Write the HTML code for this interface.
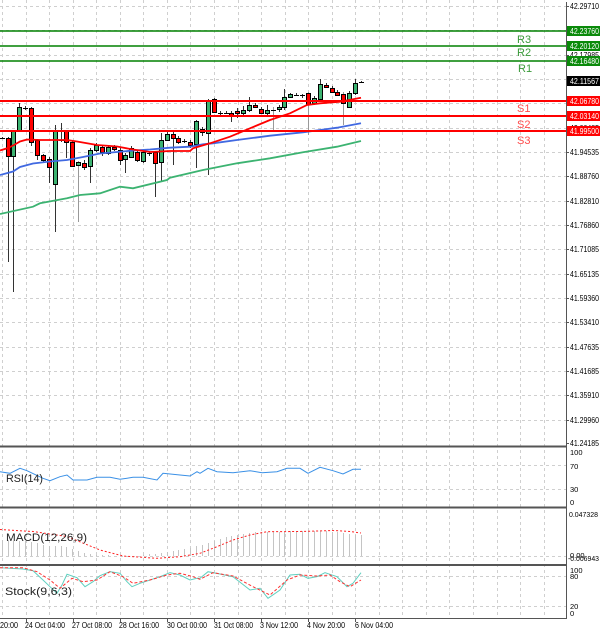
<!DOCTYPE html>
<html><head><meta charset="utf-8"><style>
html,body{margin:0;padding:0;background:#fff;}
svg{display:block;}
text{font-family:"Liberation Sans",sans-serif;}
</style></head><body>
<svg width="600" height="632" viewBox="0 0 600 632" xmlns="http://www.w3.org/2000/svg">
<rect width="600" height="632" fill="#fff"/>
<!-- vertical grid -->
<g stroke="#cfcfcf" stroke-width="1" stroke-dasharray="3 3">
<path d="M2.5 0V618M26.5 0V618M49.5 0V618M73.5 0V618M96.5 0V618M120.5 0V618M143.5 0V618M167.5 0V618M190.5 0V618M214.5 0V618M238.5 0V618M261.5 0V618M285.5 0V618M308.5 0V618M332.5 0V618M355.5 0V618M379.5 0V618M402.5 0V618M426.5 0V618M449.5 0V618M473.5 0V618M497.5 0V618M520.5 0V618M544.5 0V618"/>
<path d="M0 6.5H566M0 30.5H566M0 55.5H566M0 79.5H566M0 103.5H566M0 128.5H566M0 152.5H566M0 176.5H566M0 201.5H566M0 225.5H566M0 249.5H566M0 274.5H566M0 298.5H566M0 322.5H566M0 347.5H566M0 371.5H566M0 395.5H566M0 420.5H566"/>
<path d="M0 465.5H566M0 489.5H566M0 556.5H566M0 576.5H566M0 606.5H566"/>
</g>

<!-- wicks -->
<g stroke="#333" stroke-width="1">
<path d="M2.5 137V139M8.5 137V262M13.5 130V292M19.5 103V131M25.5 106V110M31.5 107V146M37.5 139V160M43.5 154V162M49.5 157V183M55.5 125V232M61.5 123V142M66.5 130V158M72.5 140V167M84.5 160V170M90.5 148V183M96.5 143V152M102.5 145V156M108.5 145V155M114.5 145V151M120.5 148V165M125.5 153V173M131.5 146V158M137.5 150V162M143.5 150V163M149.5 151V156M155.5 151V197M161.5 133V182M167.5 130V141M173.5 132V165M178.5 136V144M184.5 139V143M190.5 140V148M196.5 120V168M202.5 127V136M208.5 99V175M214.5 98V113M220.5 111V115M226.5 111V114M231.5 111V122M237.5 108V118M243.5 106V115M249.5 97V112M255.5 103V108M261.5 107V114M267.5 105V115M279.5 105V112M284.5 89V110M290.5 93V98M296.5 93V96M302.5 94V98M314.5 96V105M320.5 79V100M326.5 83V88M332.5 86V93M337.5 90V96M349.5 91V108M355.5 79V95M361.5 81V83"/>
</g>
<g stroke="#999" stroke-width="1">
<path d="M78.5 161V222M273.5 107V130M308.5 92V135M343.5 92V125"/>
</g>
<!-- bodies -->
<g stroke="#000" stroke-width="1" fill="#3cb371">
<rect x="11.5" y="131.5" width="4" height="25"/>
<rect x="17.5" y="107.5" width="4" height="24"/>
<rect x="53.5" y="131.5" width="4" height="53"/>
<rect x="76.5" y="162.5" width="4" height="3"/>
<rect x="88.5" y="150.5" width="4" height="16"/>
<rect x="94.5" y="145.5" width="4" height="5"/>
<rect x="106.5" y="147.5" width="4" height="6"/>
<rect x="123.5" y="155.5" width="4" height="4"/>
<rect x="129.5" y="148.5" width="4" height="9"/>
<rect x="141.5" y="152.5" width="4" height="9"/>
<rect x="159.5" y="140.5" width="4" height="22"/>
<rect x="165.5" y="134.5" width="4" height="6"/>
<rect x="194.5" y="121.5" width="4" height="23"/>
<rect x="206.5" y="100.5" width="4" height="33"/>
<rect x="241.5" y="110.5" width="4" height="3"/>
<rect x="247.5" y="105.5" width="4" height="5"/>
<rect x="265.5" y="110.5" width="4" height="3"/>
<rect x="277.5" y="107.5" width="4" height="2"/>
<rect x="282.5" y="97.5" width="4" height="10"/>
<rect x="288.5" y="94.5" width="4" height="3"/>
<rect x="312.5" y="98.5" width="4" height="5"/>
<rect x="318.5" y="84.5" width="4" height="15"/>
<rect x="347.5" y="93.5" width="4" height="14"/>
<rect x="353.5" y="83.5" width="4" height="10"/>
</g>
<g stroke="#000" stroke-width="1" fill="#f00">
<rect x="6.5" y="138.5" width="4" height="18"/>
<rect x="29.5" y="108.5" width="4" height="34"/>
<rect x="35.5" y="140.5" width="4" height="15"/>
<rect x="41.5" y="155.5" width="4" height="5"/>
<rect x="47.5" y="159.5" width="4" height="8"/>
<rect x="64.5" y="131.5" width="4" height="11"/>
<rect x="70.5" y="142.5" width="4" height="24"/>
<rect x="82.5" y="163.5" width="4" height="4"/>
<rect x="100.5" y="147.5" width="4" height="5"/>
<rect x="112.5" y="147.5" width="4" height="2"/>
<rect x="118.5" y="150.5" width="4" height="10"/>
<rect x="135.5" y="152.5" width="4" height="8"/>
<rect x="153.5" y="152.5" width="4" height="11"/>
<rect x="171.5" y="134.5" width="4" height="4"/>
<rect x="176.5" y="138.5" width="4" height="4"/>
<rect x="188.5" y="142.5" width="4" height="3"/>
<rect x="200.5" y="129.5" width="4" height="3"/>
<rect x="212.5" y="99.5" width="4" height="13"/>
<rect x="229.5" y="113.5" width="4" height="2"/>
<rect x="235.5" y="111.5" width="4" height="2"/>
<rect x="253.5" y="105.5" width="4" height="2"/>
<rect x="259.5" y="109.5" width="4" height="4"/>
<rect x="306.5" y="93.5" width="4" height="11"/>
<rect x="324.5" y="85.5" width="4" height="2"/>
<rect x="330.5" y="88.5" width="4" height="4"/>
<rect x="335.5" y="92.5" width="4" height="3"/>
<rect x="341.5" y="94.5" width="4" height="9"/>
</g>
<!-- doji -->
<g stroke="#000" stroke-width="1">
<path d="M0 138.5H5M23 108.5H28M59 140.5H64M147 153.5H152M182 141.5H187M218 113.5H223M224 113.5H229M271 110.5H276M294 95.5H299M300 95.5H305M359 82.5H364"/>
</g>

<!-- moving averages -->
<polyline fill="none" stroke="#3cb371" stroke-width="1.8" points="0,214 33,206.7 40,203.3 67,198.3 80,195 100,193.3 120,186.7 133,188.3 167,180 170,177.7 203,170 237,163.3 270,158.3 303,152.3 337,146.7 361,141"/>
<polyline fill="none" stroke="#4169e1" stroke-width="1.8" points="0,175 13,171.5 20,167 33,163.5 50,161.5 67,160 83,157 100,153.5 117,152 133,150.5 150,149.5 170,147.7 190,146.7 203,144.3 213,143.3 237,140 270,135.7 303,132.3 320,130 337,127.7 361,123.3"/>
<polyline fill="none" stroke="#ff0000" stroke-width="1.8" points="0,150.5 8,148 14,145 20,141.5 27,139.5 40,140 67,140 77,141.5 97,145 117,146.5 133,149.5 150,152 170,151 190,151 193,148.3 210,143.3 230,136.7 250,128.3 270,120 290,113.3 307,105 320,103.3 340,101.7 361,97.7"/>

<!-- level lines -->
<g stroke="#008000" stroke-width="1.5">
<path d="M0 31H566M0 46H566M0 61H566"/>
</g>
<g stroke="#ff0000" stroke-width="2">
<path d="M0 101H566M0 116H566M0 131H566"/>
</g>
<g font-size="11">
<text x="517" y="43" fill="#3a9a3a">R3</text>
<text x="517" y="56" fill="#3a9a3a">R2</text>
<text x="518" y="72" fill="#3a9a3a">R1</text>
<text x="517" y="112" fill="#ff4c4c">S1</text>
<text x="517" y="128" fill="#ff4c4c">S2</text>
<text x="517" y="144" fill="#ff4c4c">S3</text>
</g>

<!-- right axis -->
<path d="M566.5 2V618" stroke="#555" stroke-width="1"/>
<g stroke="#555" stroke-width="1">
<path d="M566 6.5H569M566 30.5H569M566 55.5H569M566 79.5H569M566 103.5H569M566 128.5H569M566 152.5H569M566 176.5H569M566 201.5H569M566 225.5H569M566 249.5H569M566 274.5H569M566 298.5H569M566 322.5H569M566 347.5H569M566 371.5H569M566 395.5H569M566 420.5H569M566 443.5H569"/>
</g>
<g font-size="8.5" fill="#000">
<text x="570" y="9" textLength="29" lengthAdjust="spacingAndGlyphs">42.29710</text>
<text x="570" y="33" textLength="29" lengthAdjust="spacingAndGlyphs">42.23835</text>
<text x="570" y="58" textLength="29" lengthAdjust="spacingAndGlyphs">42.17985</text>
<text x="570" y="82" textLength="29" lengthAdjust="spacingAndGlyphs">42.12060</text>
<text x="570" y="106" textLength="29" lengthAdjust="spacingAndGlyphs">42.06210</text>
<text x="570" y="131" textLength="29" lengthAdjust="spacingAndGlyphs">42.00485</text>
<text x="570" y="155" textLength="29" lengthAdjust="spacingAndGlyphs">41.94535</text>
<text x="570" y="179" textLength="29" lengthAdjust="spacingAndGlyphs">41.88760</text>
<text x="570" y="204" textLength="29" lengthAdjust="spacingAndGlyphs">41.82810</text>
<text x="570" y="228" textLength="29" lengthAdjust="spacingAndGlyphs">41.76860</text>
<text x="570" y="252" textLength="29" lengthAdjust="spacingAndGlyphs">41.71085</text>
<text x="570" y="277" textLength="29" lengthAdjust="spacingAndGlyphs">41.65135</text>
<text x="570" y="301" textLength="29" lengthAdjust="spacingAndGlyphs">41.59360</text>
<text x="570" y="325" textLength="29" lengthAdjust="spacingAndGlyphs">41.53410</text>
<text x="570" y="350" textLength="29" lengthAdjust="spacingAndGlyphs">41.47635</text>
<text x="570" y="374" textLength="29" lengthAdjust="spacingAndGlyphs">41.41685</text>
<text x="570" y="398" textLength="29" lengthAdjust="spacingAndGlyphs">41.35910</text>
<text x="570" y="423" textLength="29" lengthAdjust="spacingAndGlyphs">41.29960</text>
<text x="570" y="446" textLength="29" lengthAdjust="spacingAndGlyphs">41.24185</text>
</g>
<!-- level boxes -->
<rect x="567" y="26" width="33" height="10" fill="#0a8a0a"/>
<rect x="567" y="41" width="33" height="10" fill="#0a8a0a"/>
<rect x="567" y="56" width="33" height="10" fill="#0a8a0a"/>
<rect x="567" y="76" width="33" height="10" fill="#000"/>
<rect x="567" y="96" width="33" height="10" fill="#ff0000"/>
<rect x="567" y="111" width="33" height="10" fill="#ff0000"/>
<rect x="567" y="126" width="33" height="10" fill="#ff0000"/>
<g font-size="8.5" fill="#fff">
<text x="570" y="34" textLength="29" lengthAdjust="spacingAndGlyphs">42.23760</text>
<text x="570" y="49" textLength="29" lengthAdjust="spacingAndGlyphs">42.20120</text>
<text x="570" y="64" textLength="29" lengthAdjust="spacingAndGlyphs">42.16480</text>
<text x="570" y="84" textLength="29" lengthAdjust="spacingAndGlyphs">42.11567</text>
<text x="570" y="104" textLength="29" lengthAdjust="spacingAndGlyphs">42.06780</text>
<text x="570" y="119" textLength="29" lengthAdjust="spacingAndGlyphs">42.03140</text>
<text x="570" y="134" textLength="29" lengthAdjust="spacingAndGlyphs">41.99500</text>
</g>

<!-- RSI -->
<polyline fill="none" stroke="#3a90e6" stroke-width="1" points="0,471.7 10,473.3 20,468.3 27,470.7 43,478.3 50,480.7 60,476.7 67,475 73,480 87,480 97,477.3 110,477.3 120,479.3 133,477.3 143,477.3 157,480 163,473.3 180,475 190,476 197,471.7 200,473.3 208,468.3 217,471.7 233,472.7 250,470.7 262,472.7 277,471.7 287,468.3 300,468.3 308,473.3 320,467.3 333,470.7 343,474 353,469.3 361,469.3"/>
<text x="6" y="482" font-size="11" fill="#222" textLength="37" lengthAdjust="spacingAndGlyphs">RSI(14)</text>

<!-- MACD histogram -->
<g stroke="#c4c4c4" stroke-width="1">
<path d="M2.5 556V540M8.5 556V540M13.5 556V541M19.5 556V541M25.5 556V541M31.5 556V542M37.5 556V543M43.5 556V545M49.5 556V546M55.5 556V546M61.5 556V546M66.5 556V547M72.5 556V549M78.5 556V551M84.5 556V553M90.5 556V554M96.5 556V555M102.5 556V555M108.5 556V555M143.5 556V555M149.5 556V554M155.5 556V554M161.5 556V553M167.5 556V552M173.5 556V551M178.5 556V550M184.5 556V549M190.5 556V548M196.5 556V546M202.5 556V545M208.5 556V543M214.5 556V541M220.5 556V539M226.5 556V537M231.5 556V536M237.5 556V535M243.5 556V534M249.5 556V533M255.5 556V532M261.5 556V532M267.5 556V532M273.5 556V532M279.5 556V532M284.5 556V532M290.5 556V531M296.5 556V531M302.5 556V531M308.5 556V531M314.5 556V531M320.5 556V531M326.5 556V531M332.5 556V532M337.5 556V532M343.5 556V533M349.5 556V534M355.5 556V535M361.5 556V535"/>
</g>
<polyline fill="none" stroke="#ff2020" stroke-width="1" stroke-dasharray="2 2" points="0,529.5 33,531.5 67,536.5 100,550 123,556 157,558.3 180,556.7 200,553.3 217,546.7 233,540 250,535 267,531.7 300,531.5 333,530.5 350,531.5 361,533"/>
<text x="6" y="541" font-size="11" fill="#222" textLength="81" lengthAdjust="spacingAndGlyphs">MACD(12,26,9)</text>

<!-- Stoch -->
<polyline fill="none" stroke="#5fd0c0" stroke-width="1" points="0,567.7 10,568.3 23,569 33,570.7 43,580 50,586.7 57,593.3 62,585 67,574.3 77,577.7 85,586.7 93,581.7 100,575.7 110,571.7 120,573.3 127,581.7 132,586.7 140,583.3 150,580 160,576.7 170,572.7 180,575 190,580 197,578.3 200,578.3 208,571.7 220,574 233,576.7 250,590 260,588.3 268,598.3 280,590 290,575 300,574.3 308,578.3 317,576.7 325,572.7 337,576.7 347,586.7 353,583.3 361,572.7"/>
<polyline fill="none" stroke="#ff3030" stroke-width="1" stroke-dasharray="3 2" points="0,567.7 23,567.7 37,571.7 50,580 60,588.3 72,578.3 83,581.7 97,580 110,571.7 123,576.7 133,583.3 150,580 167,575 180,573.3 193,576.7 200,579.3 213,572.7 233,576 253,586.7 270,595 287,580 300,575 317,576 330,575 340,581.7 350,586.7 361,580"/>
<text x="5" y="595" font-size="11" fill="#222" textLength="67" lengthAdjust="spacingAndGlyphs">Stock(9,6,3)</text>

<!-- separators -->
<g stroke="#555" stroke-width="2">
<path d="M0 446.5H567M0 507.5H567M0 565H567"/>
</g>
<path d="M0 618.5H567" stroke="#555" stroke-width="1"/>

<!-- sub axis labels -->
<g font-size="7.5" fill="#000">
<text x="570" y="455">100</text>
<text x="570" y="469">70</text>
<text x="570" y="492">30</text>
<text x="570" y="505">0</text>
<text x="569" y="517" textLength="29" lengthAdjust="spacingAndGlyphs">0.047328</text>
<text x="570" y="558">0.00</text>
<text x="568" y="561" textLength="31" lengthAdjust="spacingAndGlyphs">-0.006943</text>
<text x="570" y="573">100</text>
<text x="570" y="579">80</text>
<text x="570" y="609">20</text>
<text x="570" y="616">0</text>
</g>

<!-- x axis -->
<g stroke="#555" stroke-width="1">
<path d="M26.5 618V622M73.5 618V622M120.5 618V622M167.5 618V622M214.5 618V622M261.5 618V622M308.5 618V622M355.5 618V622"/>
</g>
<g font-size="8.5" fill="#000">
<text x="0" y="628" textLength="18" lengthAdjust="spacingAndGlyphs">20:00</text>
<text x="25" y="628" textLength="40" lengthAdjust="spacingAndGlyphs">24 Oct 04:00</text>
<text x="72" y="628" textLength="40" lengthAdjust="spacingAndGlyphs">27 Oct 08:00</text>
<text x="119" y="628" textLength="40" lengthAdjust="spacingAndGlyphs">28 Oct 16:00</text>
<text x="167" y="628" textLength="40" lengthAdjust="spacingAndGlyphs">30 Oct 00:00</text>
<text x="214" y="628" textLength="39" lengthAdjust="spacingAndGlyphs">31 Oct 08:00</text>
<text x="260" y="628" textLength="38" lengthAdjust="spacingAndGlyphs">3 Nov 12:00</text>
<text x="307" y="628" textLength="38" lengthAdjust="spacingAndGlyphs">4 Nov 20:00</text>
<text x="355" y="628" textLength="38" lengthAdjust="spacingAndGlyphs">6 Nov 04:00</text>
</g>
</svg>
</body></html>
